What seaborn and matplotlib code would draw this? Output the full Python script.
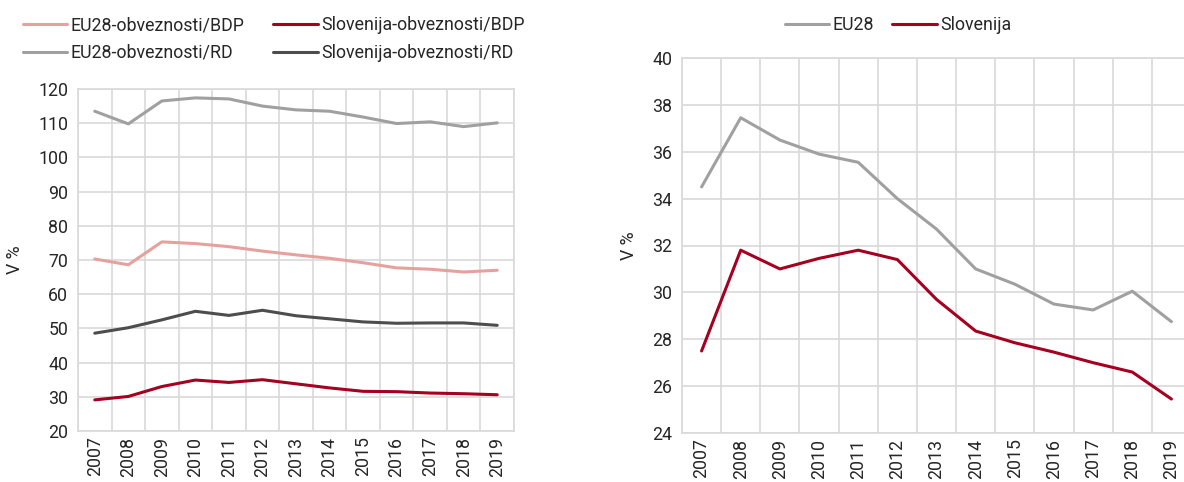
import numpy as np
import pandas as pd
import seaborn as sns
import matplotlib.pyplot as plt

years = ['2007', '2008', '2009', '2010', '2011', '2012', '2013', '2014', '2015', '2016', '2017', '2018', '2019']

# left chart
eu_bdp = [70.3, 68.6, 75.3, 74.8, 73.9, 72.6, 71.5, 70.5, 69.2, 67.7, 67.3, 66.5, 67.0]
slo_bdp = [29.1, 30.1, 33.0, 34.9, 34.2, 35.0, 33.8, 32.6, 31.6, 31.5, 31.1, 30.9, 30.6]
eu_rd = [113.5, 109.8, 116.5, 117.4, 117.1, 115.0, 113.9, 113.5, 111.8, 109.9, 110.4, 109.0, 110.1]
slo_rd = [48.6, 50.2, 52.5, 55.0, 53.8, 55.3, 53.7, 52.8, 51.9, 51.5, 51.6, 51.6, 50.9]

# right chart
eu28 = [34.5, 37.45, 36.5, 35.9, 35.55, 34.0, 32.7, 31.0, 30.35, 29.5, 29.25, 30.05, 28.75]
slovenija = [27.5, 31.8, 31.0, 31.45, 31.8, 31.4, 29.7, 28.35, 27.85, 27.45, 27.0, 26.6, 25.45]

sns.set_style('white')
plt.rcParams['font.family'] = ['Roboto', 'DejaVu Sans']

pink = '#E6A19F'
red = '#A50021'
grey = '#A0A0A0'
dark = '#4D4D4D'
gridc = '#D9D9D9'
fs = 12.8

fig = plt.figure(figsize=(11.84, 4.82), dpi=100)
ax1 = fig.add_axes([78 / 1184, 1 - 431 / 482, (514 - 78) / 1184, (431 - 89) / 482])
ax2 = fig.add_axes([682 / 1184, 1 - 433 / 482, (1191 - 682) / 1184, (433 - 58) / 482])

x = np.arange(len(years))
left = pd.DataFrame({'x': np.tile(x, 4),
                     'val': eu_bdp + slo_bdp + eu_rd + slo_rd,
                     'serie': ['EU28-obveznosti/BDP'] * 13 + ['Slovenija-obveznosti/BDP'] * 13
                              + ['EU28-obveznosti/RD'] * 13 + ['Slovenija-obveznosti/RD'] * 13})
right = pd.DataFrame({'x': np.tile(x, 2),
                      'val': eu28 + slovenija,
                      'serie': ['EU28'] * 13 + ['Slovenija'] * 13})

sns.lineplot(data=left, x='x', y='val', hue='serie', ax=ax1, linewidth=2.2,
             palette={'EU28-obveznosti/BDP': pink, 'Slovenija-obveznosti/BDP': red,
                      'EU28-obveznosti/RD': grey, 'Slovenija-obveznosti/RD': dark})
sns.lineplot(data=right, x='x', y='val', hue='serie', ax=ax2, linewidth=2.2,
             palette={'EU28': grey, 'Slovenija': red})

for ax, lo, hi, step in [(ax1, 20, 120, 10), (ax2, 24, 40, 2)]:
    ax.set_xlim(-0.5, 12.5)
    ax.set_ylim(lo, hi)
    ax.set_yticks(np.arange(lo, hi + 0.1, step))
    ax.set_xticks(x)
    ax.set_xticklabels(years, rotation=90, fontsize=fs)
    ax.tick_params(axis='y', labelsize=fs, length=0, pad=7)
    ax.tick_params(axis='x', length=0, pad=4)
    ax.set_xticks(np.arange(-0.5, 13, 1), minor=True)
    ax.grid(axis='y', color=gridc, linewidth=1.2)
    ax.grid(axis='x', which='minor', color=gridc, linewidth=1.2)
    ax.grid(axis='x', which='major', visible=False)
    for s in ax.spines.values():
        s.set_color(gridc)
        s.set_linewidth(1.2)
    ax.set_xlabel('')
    ax.set_ylabel('V %', fontsize=fs, labelpad=10)
    ax.set_axisbelow(True)

h, l = ax1.get_legend_handles_labels()
order = [0, 2, 1, 3]
ax1.legend([h[i] for i in order], [l[i] for i in order], ncol=2, frameon=False, fontsize=fs,
           loc='upper left', bbox_to_anchor=(7 / 1184, 1.0), bbox_transform=fig.transFigure,
           handlelength=2.5, handletextpad=0.2, columnspacing=1.6, labelspacing=0.55)
ax2.legend(ncol=2, frameon=False, fontsize=fs, loc='upper center',
           bbox_to_anchor=(898 / 1184, 1.0), bbox_transform=fig.transFigure,
           handlelength=2.5, handletextpad=0.2, columnspacing=1.0)

fig.savefig('out.png', dpi=100)
